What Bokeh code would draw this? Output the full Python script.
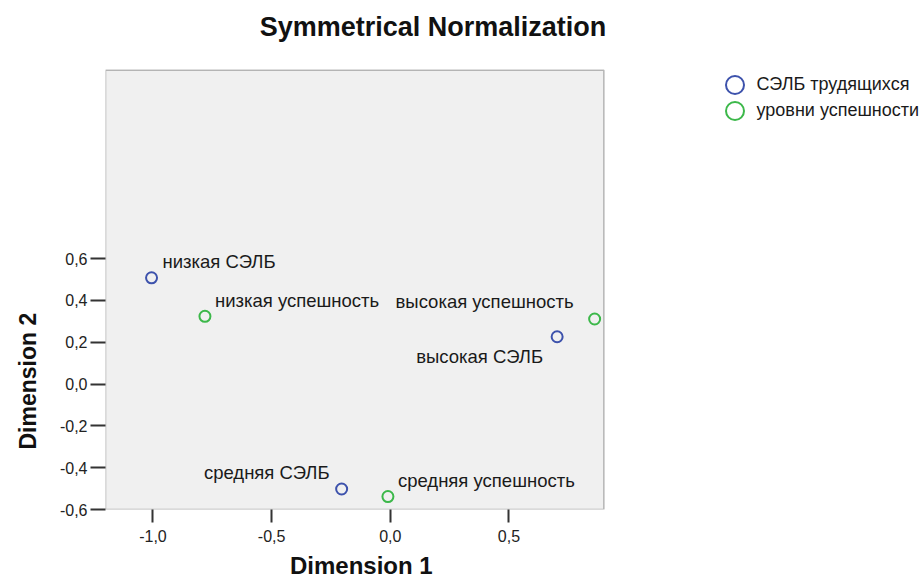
from bokeh.plotting import figure
from bokeh.models import (Range1d, FixedTicker, CustomJSTickFormatter, Title,
                          Legend, LegendItem, BoxAnnotation, Label)
from bokeh.core.properties import value
from bokeh.embed import file_html
from bokeh.resources import INLINE

# ---- data ----
selb_labels = ["низкая СЭЛБ", "средняя СЭЛБ", "высокая СЭЛБ"]
selb_x = [-1.006, -0.205, 0.703]
selb_y = [0.508, -0.502, 0.226]

usp_labels = ["низкая успешность", "средняя успешность", "высокая успешность"]
usp_x = [-0.781, -0.010, 0.861]
usp_y = [0.324, -0.538, 0.311]

series_names = ["СЭЛБ трудящихся", "уровни успешности"]
x_ticks = [-1.0, -0.5, 0.0, 0.5]
y_ticks = [-0.6, -0.4, -0.2, 0.0, 0.2, 0.4, 0.6]

# plot-area limits (data units)
area_x = (-1.2, 0.9)
area_y = (-0.6, 1.5)

title_text = "Symmetrical Normalization"
x_title = "Dimension 1"
y_title = "Dimension 2"

# ---- styles / layout ----
BLUE = "#3D52AC"
GREEN = "#3CB84A"
FONT = "Liberation Sans"
selb_style = [("left", 11, -16), ("right", -12, -17), ("right", -14, 20)]
usp_style = [("left", 10, -16), ("left", 10, -16), ("right", -21, -17)]

W, H = 922, 583
LEFT, BOTTOM = 104, 73
AREA_W, AREA_H = 499, 440   # px size of the grey area
frame_w = W - LEFT
frame_h = H - BOTTOM
x_end = area_x[0] + (area_x[1] - area_x[0]) * frame_w / AREA_W
y_end = area_y[0] + (area_y[1] - area_y[0]) * frame_h / AREA_H

p = figure(width=W, height=H, output_backend="svg", toolbar_location=None,
           x_range=Range1d(area_x[0], x_end), y_range=Range1d(area_y[0], y_end),
           min_border_left=LEFT, min_border_right=0, min_border_top=0,
           min_border_bottom=BOTTOM)
p.background_fill_color = "white"
p.border_fill_color = "white"
p.outline_line_color = None
p.grid.visible = False

p.add_layout(BoxAnnotation(left=area_x[0], right=area_x[1], bottom=area_y[0],
                           top=area_y[1], fill_color="#F0F0F0", fill_alpha=1,
                           line_color="#222222", line_width=1.5, level="underlay"))

# title (inside the frame region, above the grey area)
p.add_layout(Label(x=327.5, y=frame_h - 27.5, x_units="screen", y_units="screen",
                   text=title_text, text_align="center", text_baseline="alphabetic",
                   text_font=FONT, text_font_size="27px", text_font_style="bold",
                   text_color="#111111"))

xax = p.below[0]
yax = p.left[0]
fmt = CustomJSTickFormatter(code="return tick.toFixed(1).replace('.', ',');")
for ax, ticks, tout, std in ((xax, x_ticks, 13, 7), (yax, y_ticks, 15, 3)):
    ax.ticker = FixedTicker(ticks=ticks)
    ax.formatter = fmt
    ax.axis_line_color = None
    ax.major_tick_in = 0
    ax.major_tick_out = tout
    ax.major_tick_line_width = 2
    ax.major_tick_line_color = "#333333"
    ax.minor_tick_line_color = None
    ax.major_label_text_font = FONT
    ax.major_label_text_font_size = "16px"
    ax.major_label_text_color = "#222222"
    ax.major_label_standoff = std

p.add_layout(Title(text=x_title, align="left", offset=184.5, standoff=10,
                   text_font=FONT, text_font_size="24px", text_font_style="bold",
                   text_color="#111111"), "below")
p.add_layout(Title(text=y_title, align="left", offset=60, standoff=28,
                   vertical_align="top",
                   text_font=FONT, text_font_size="23px", text_font_style="bold",
                   text_color="#111111"), "left")

r1 = p.scatter(selb_x, selb_y, marker="circle", size=11, fill_color=None,
               line_color=BLUE, line_width=2)
r2 = p.scatter(usp_x, usp_y, marker="circle", size=11, fill_color=None,
               line_color=GREEN, line_width=2)

for xs, ys, labs, styles in ((selb_x, selb_y, selb_labels, selb_style),
                             (usp_x, usp_y, usp_labels, usp_style)):
    for i in range(len(labs)):
        al, dx, dy = styles[i]
        p.text(x=[xs[i]], y=[ys[i]], text=[labs[i]], x_offset=dx, y_offset=dy,
               text_align=al, text_baseline="middle",
               text_font=value(FONT), text_font_size="18.5px", text_color="#1a1a1a")

for name, r, vy in ((series_names[0], r1, 402.5), (series_names[1], r2, 376)):
    lg = Legend(items=[LegendItem(label=name, renderers=[r])],
                location=(606.5, vy), glyph_width=45, glyph_height=45,
                label_standoff=0, padding=0, margin=0,
                border_line_color=None, background_fill_alpha=0,
                label_text_font=FONT, label_text_font_size="18px",
                label_text_color="#1a1a1a")
    p.add_layout(lg, "center")

open("out.html", "w").write(file_html(p, INLINE))
